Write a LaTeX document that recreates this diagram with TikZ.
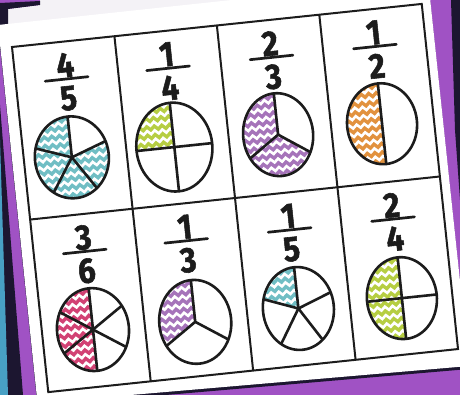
\documentclass[tikz,border=0pt]{standalone}
\usepackage{fontspec}
\setmainfont{Fira Sans}
\newfontfamily\digitfont{Fira Sans}[BoldFeatures={FakeBold=1.6}]
\definecolor{bgpurple}{RGB}{160,82,196}
\definecolor{bgteal}{RGB}{72,160,196}
\definecolor{bgdark}{RGB}{28,22,48}
\definecolor{frameinner}{RGB}{244,242,246}
\definecolor{ink}{RGB}{28,28,28}
\definecolor{pteal}{RGB}{112,190,196}
\definecolor{pgreen}{RGB}{182,206,66}
\definecolor{ppurple}{RGB}{166,116,186}
\definecolor{porange}{RGB}{226,146,62}
\definecolor{ppink}{RGB}{210,66,116}
\tikzset{
  gridline/.style={draw=ink, line width=1pt},
  pieline/.style={draw=ink, line width=1.3pt, line cap=round},
  barline/.style={draw=ink, line width=1.35pt, line cap=round},
  chevline/.style={draw=white, line width=1.3pt, line join=miter},
  digit/.style={inner sep=0pt, transform shape, yscale=1.14, text=ink, font=\digitfont\fontsize{15.5}{15.5}\selectfont\bfseries},
}
\newcommand{\chevfill}[1]{%
  \fill[#1] (-50,-62) rectangle (50,62);
  \foreach \r in {-7,...,7} {
    \draw[chevline] (-52,{\r*8.5-1.75}) \foreach \k in {1,...,14} { -- ++(3.8,3.5) -- ++(3.8,-3.5) };
  }%
}
% center x, center y, x radius, y radius, colour, filled range a/b, divider angles
\newcommand{\fracpie}[7]{%
  \begin{scope}[shift={(#1,#2)}, yscale=-1]
    \fill[white] (0,0) ellipse [x radius=#3, y radius=#4];
    \begin{scope}
      \clip (0,0) ellipse [x radius=#3, y radius=#4];
      \foreach \ta/\tb in {#6} {
        \begin{scope}
          \clip (0,0) \foreach \k in {0,...,6} { -- ({1.6*#3*cos(\ta+(\tb-\ta)*\k/6)},{1.6*#4*sin(\ta+(\tb-\ta)*\k/6)}) } -- cycle;
          \chevfill{#5}
        \end{scope}
      }
      \foreach \t in {#7} \draw[pieline] (0,0) -- ({#3*cos(\t)},{#4*sin(\t)});
    \end{scope}
    \draw[pieline] (0,0) ellipse [x radius=#3, y radius=#4];
  \end{scope}%
}
% name, x, row top, numerator, denominator
\newcommand{\fracnum}[5]{%
  \node[digit] (#1num) at (#2,{#3+23.5}) {#4};
  \draw[barline] ({#2-21.5},{#3+37.5}) -- ({#2+21.5},{#3+37.5});
  \node[digit] (#1den) at (#2,{#3+57}) {#5};
}
\begin{document}
\begin{tikzpicture}[x=0.5pt,y=-0.5pt]
\useasboundingbox (0,0) rectangle (460,395);
% background
\fill[bgpurple] (0,0) rectangle (460,395);
\fill[bgdark] (0,105) -- (23,395) -- (0,395) -- cycle;
\fill[bgteal] (0,140) -- (8,395) -- (0,395) -- cycle;
\fill[bgdark] (451,0) -- (460,0) -- (460,200) -- (455,130) -- cycle;
\fill[frameinner] (8,9) -- (40,5) -- (40,0) -- (260,0) -- (8,40) -- cycle;
\fill[bgdark] (0,3) -- (40,1) -- (40,5) -- (8,9) -- (8,40) -- (0,40) -- cycle;
% paper
\fill[bgdark] (-2,28) -- (428,-18) -- (469,369) -- (37.5,406) -- cycle;
\fill[white] (-2,25) -- (428,-21) -- (469,366) -- (37.5,403) -- cycle;
% sheet of cards
\begin{scope}[shift={(12,47)}, rotate=6]
  \fracpie{48}{116}{37}{41}{pteal}{90/378}{90,162,234,306,18}
  \fracpie{151}{116.5}{38}{44.5}{pgreen}{90/180}{0,90,180,270}
  \fracpie{255.5}{115}{35}{41.5}{ppurple}{90/330}{90,210,330}
  \fracpie{360}{115}{35}{40.5}{porange}{90/270}{90,270}
  \fracpie{51}{289.5}{36}{41.5}{ppink}{90/270}{90,150,210,270,330,30}
  \fracpie{153.5}{292.5}{36}{42}{ppurple}{90/210}{90,210,330}
  \fracpie{257.5}{290}{35.5}{41.5}{pteal}{90/162}{90,162,234,306,18}
  \fracpie{361.5}{290.5}{35}{41}{pgreen}{90/270}{0,90,180,270}
  \draw[gridline] (0,0) rectangle (412,347);
  \draw[gridline] (0,173.5) -- (412,173.5);
  \foreach \x in {103,206,309} \draw[gridline] (\x,0) -- (\x,347);
  \fracnum{a}{51}{0}{4}{5}
  \fracnum{b}{153}{0}{1}{4}
  \fracnum{c}{257}{0}{2}{3}
  \fracnum{d}{361}{0}{1}{2}
  \fracnum{e}{51}{173.5}{3}{6}
  \fracnum{f}{153}{173.5}{1}{3}
  \fracnum{g}{257}{173.5}{1}{5}
  \fracnum{h}{361}{173.5}{2}{4}
\end{scope}
\end{tikzpicture}
\end{document}
